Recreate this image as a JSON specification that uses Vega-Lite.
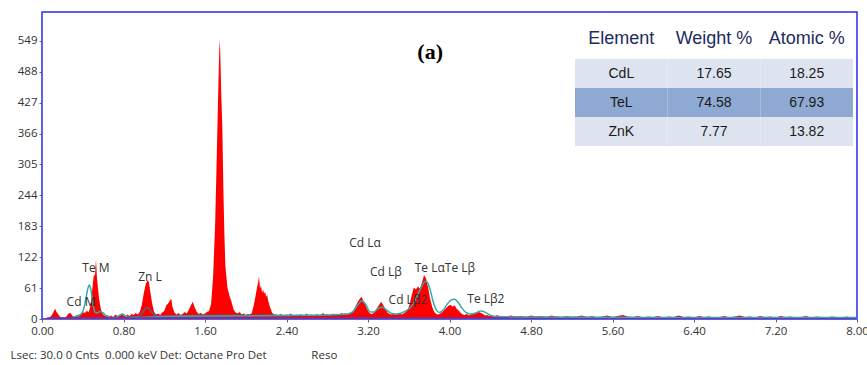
{
  "$schema": "https://vega.github.io/schema/vega-lite/v6.json",
  "width": 815,
  "height": 307,
  "autosize": {"type": "none"},
  "padding": {"left": 42, "top": 12, "right": 10, "bottom": 46},
  "background": "white",
  "config": {"view": {"stroke": "#2a2af0", "strokeWidth": 1.5}, "font": "Open Sans", "axis": {"labelOverlap": false, "labelBound": false}},
  "datasets": {
    "red": [
      {"keV":0.00,"counts":0},{"keV":0.02,"counts":0},{"keV":0.04,"counts":1},{"keV":0.06,"counts":2},{"keV":0.08,"counts":4},
      {"keV":0.10,"counts":9},{"keV":0.12,"counts":17},{"keV":0.13,"counts":20},{"keV":0.14,"counts":15},{"keV":0.16,"counts":9},
      {"keV":0.18,"counts":4},{"keV":0.20,"counts":3},{"keV":0.22,"counts":2},{"keV":0.24,"counts":5},{"keV":0.26,"counts":11},
      {"keV":0.28,"counts":12},{"keV":0.30,"counts":6},{"keV":0.32,"counts":4},{"keV":0.34,"counts":7},{"keV":0.36,"counts":5},
      {"keV":0.38,"counts":9},{"keV":0.40,"counts":14},{"keV":0.42,"counts":12},{"keV":0.44,"counts":16},{"keV":0.46,"counts":14},
      {"keV":0.48,"counts":30},{"keV":0.50,"counts":72},{"keV":0.51,"counts":88},{"keV":0.52,"counts":85},{"keV":0.53,"counts":118},
      {"keV":0.54,"counts":80},{"keV":0.55,"counts":60},{"keV":0.56,"counts":40},{"keV":0.58,"counts":18},{"keV":0.60,"counts":9},
      {"keV":0.62,"counts":6},{"keV":0.64,"counts":8},{"keV":0.66,"counts":5},{"keV":0.68,"counts":7},{"keV":0.70,"counts":4},
      {"keV":0.72,"counts":9},{"keV":0.74,"counts":6},{"keV":0.76,"counts":8},{"keV":0.78,"counts":11},{"keV":0.80,"counts":7},
      {"keV":0.82,"counts":5},{"keV":0.84,"counts":9},{"keV":0.86,"counts":6},{"keV":0.88,"counts":10},{"keV":0.90,"counts":8},
      {"keV":0.92,"counts":12},{"keV":0.94,"counts":9},{"keV":0.96,"counts":14},{"keV":0.98,"counts":28},{"keV":1.00,"counts":52},
      {"keV":1.02,"counts":70},{"keV":1.04,"counts":77},{"keV":1.05,"counts":72},{"keV":1.06,"counts":58},{"keV":1.08,"counts":32},
      {"keV":1.10,"counts":14},{"keV":1.12,"counts":9},{"keV":1.14,"counts":11},{"keV":1.16,"counts":8},{"keV":1.18,"counts":13},
      {"keV":1.20,"counts":16},{"keV":1.22,"counts":27},{"keV":1.24,"counts":31},{"keV":1.26,"counts":38},{"keV":1.27,"counts":39},
      {"keV":1.28,"counts":24},{"keV":1.30,"counts":13},{"keV":1.32,"counts":9},{"keV":1.34,"counts":12},{"keV":1.36,"counts":8},
      {"keV":1.38,"counts":10},{"keV":1.40,"counts":14},{"keV":1.42,"counts":11},{"keV":1.44,"counts":18},{"keV":1.46,"counts":26},
      {"keV":1.48,"counts":34},{"keV":1.50,"counts":22},{"keV":1.52,"counts":14},{"keV":1.54,"counts":10},{"keV":1.56,"counts":12},
      {"keV":1.58,"counts":9},{"keV":1.60,"counts":11},{"keV":1.62,"counts":14},{"keV":1.64,"counts":16},{"keV":1.66,"counts":30},
      {"keV":1.68,"counts":85},{"keV":1.70,"counts":190},{"keV":1.72,"counts":360},{"keV":1.73,"counts":450},{"keV":1.74,"counts":530},
      {"keV":1.745,"counts":551},{"keV":1.75,"counts":525},{"keV":1.76,"counts":440},{"keV":1.77,"counts":380},{"keV":1.78,"counts":260},
      {"keV":1.79,"counts":170},{"keV":1.80,"counts":105},{"keV":1.82,"counts":62},{"keV":1.84,"counts":46},{"keV":1.86,"counts":34},
      {"keV":1.88,"counts":19},{"keV":1.90,"counts":13},{"keV":1.92,"counts":11},{"keV":1.94,"counts":14},{"keV":1.96,"counts":9},
      {"keV":1.98,"counts":11},{"keV":2.00,"counts":8},{"keV":2.02,"counts":10},{"keV":2.04,"counts":9},{"keV":2.06,"counts":12},
      {"keV":2.08,"counts":28},{"keV":2.10,"counts":50},{"keV":2.11,"counts":62},{"keV":2.12,"counts":70},{"keV":2.13,"counts":84},
      {"keV":2.14,"counts":60},{"keV":2.15,"counts":66},{"keV":2.16,"counts":52},{"keV":2.17,"counts":58},{"keV":2.18,"counts":50},
      {"keV":2.19,"counts":54},{"keV":2.20,"counts":44},{"keV":2.21,"counts":48},{"keV":2.22,"counts":36},{"keV":2.24,"counts":22},
      {"keV":2.26,"counts":12},{"keV":2.28,"counts":9},{"keV":2.30,"counts":9},{"keV":2.32,"counts":7},{"keV":2.34,"counts":10},
      {"keV":2.36,"counts":8},{"keV":2.38,"counts":6},{"keV":2.40,"counts":9},{"keV":2.42,"counts":7},{"keV":2.44,"counts":11},
      {"keV":2.46,"counts":8},{"keV":2.48,"counts":6},{"keV":2.50,"counts":9},{"keV":2.52,"counts":7},{"keV":2.54,"counts":10},
      {"keV":2.56,"counts":6},{"keV":2.58,"counts":8},{"keV":2.60,"counts":11},{"keV":2.62,"counts":7},{"keV":2.64,"counts":9},
      {"keV":2.66,"counts":6},{"keV":2.68,"counts":8},{"keV":2.70,"counts":10},{"keV":2.72,"counts":7},{"keV":2.74,"counts":9},
      {"keV":2.76,"counts":12},{"keV":2.78,"counts":8},{"keV":2.80,"counts":10},{"keV":2.82,"counts":7},{"keV":2.84,"counts":9},
      {"keV":2.86,"counts":11},{"keV":2.88,"counts":8},{"keV":2.90,"counts":10},{"keV":2.92,"counts":9},{"keV":2.94,"counts":12},
      {"keV":2.96,"counts":10},{"keV":2.98,"counts":11},{"keV":3.00,"counts":9},{"keV":3.02,"counts":12},{"keV":3.04,"counts":14},
      {"keV":3.06,"counts":18},{"keV":3.08,"counts":26},{"keV":3.10,"counts":34},{"keV":3.12,"counts":40},{"keV":3.135,"counts":44},
      {"keV":3.15,"counts":38},{"keV":3.17,"counts":30},{"keV":3.19,"counts":20},{"keV":3.21,"counts":13},{"keV":3.23,"counts":10},
      {"keV":3.25,"counts":11},{"keV":3.27,"counts":15},{"keV":3.29,"counts":22},{"keV":3.31,"counts":28},{"keV":3.33,"counts":34},
      {"keV":3.35,"counts":27},{"keV":3.37,"counts":20},{"keV":3.39,"counts":13},{"keV":3.41,"counts":10},{"keV":3.43,"counts":9},
      {"keV":3.45,"counts":11},{"keV":3.47,"counts":8},{"keV":3.49,"counts":10},{"keV":3.51,"counts":12},{"keV":3.53,"counts":9},
      {"keV":3.55,"counts":11},{"keV":3.57,"counts":14},{"keV":3.59,"counts":18},{"keV":3.61,"counts":30},{"keV":3.63,"counts":48},
      {"keV":3.65,"counts":62},{"keV":3.67,"counts":58},{"keV":3.69,"counts":64},{"keV":3.71,"counts":60},{"keV":3.73,"counts":72},
      {"keV":3.75,"counts":87},{"keV":3.77,"counts":80},{"keV":3.79,"counts":62},{"keV":3.81,"counts":40},{"keV":3.83,"counts":24},
      {"keV":3.85,"counts":14},{"keV":3.87,"counts":10},{"keV":3.89,"counts":9},{"keV":3.91,"counts":11},{"keV":3.93,"counts":14},
      {"keV":3.95,"counts":18},{"keV":3.97,"counts":22},{"keV":3.99,"counts":26},{"keV":4.01,"counts":28},{"keV":4.03,"counts":24},
      {"keV":4.05,"counts":27},{"keV":4.07,"counts":20},{"keV":4.09,"counts":17},{"keV":4.11,"counts":12},{"keV":4.13,"counts":9},
      {"keV":4.15,"counts":8},{"keV":4.17,"counts":10},{"keV":4.19,"counts":7},{"keV":4.21,"counts":9},{"keV":4.23,"counts":11},
      {"keV":4.25,"counts":13},{"keV":4.27,"counts":12},{"keV":4.29,"counts":14},{"keV":4.31,"counts":12},{"keV":4.33,"counts":10},
      {"keV":4.35,"counts":7},{"keV":4.37,"counts":8},{"keV":4.39,"counts":6},{"keV":4.41,"counts":7},{"keV":4.43,"counts":5},
      {"keV":4.45,"counts":6},{"keV":4.47,"counts":8},{"keV":4.49,"counts":5},{"keV":4.51,"counts":6},{"keV":4.55,"counts":4},
      {"keV":4.60,"counts":7},{"keV":4.65,"counts":5},{"keV":4.70,"counts":6},{"keV":4.75,"counts":4},{"keV":4.80,"counts":7},
      {"keV":4.85,"counts":5},{"keV":4.90,"counts":6},{"keV":4.95,"counts":4},{"keV":5.00,"counts":7},{"keV":5.05,"counts":5},
      {"keV":5.10,"counts":3},{"keV":5.15,"counts":6},{"keV":5.20,"counts":4},{"keV":5.25,"counts":5},{"keV":5.30,"counts":7},
      {"keV":5.35,"counts":4},{"keV":5.40,"counts":6},{"keV":5.45,"counts":3},{"keV":5.50,"counts":5},{"keV":5.55,"counts":7},
      {"keV":5.60,"counts":4},{"keV":5.65,"counts":6},{"keV":5.70,"counts":8},{"keV":5.75,"counts":5},{"keV":5.80,"counts":4},
      {"keV":5.85,"counts":6},{"keV":5.90,"counts":3},{"keV":5.95,"counts":5},{"keV":6.00,"counts":4},{"keV":6.05,"counts":6},
      {"keV":6.10,"counts":3},{"keV":6.15,"counts":5},{"keV":6.20,"counts":4},{"keV":6.25,"counts":7},{"keV":6.30,"counts":4},
      {"keV":6.35,"counts":5},{"keV":6.40,"counts":3},{"keV":6.45,"counts":6},{"keV":6.50,"counts":4},{"keV":6.55,"counts":5},
      {"keV":6.60,"counts":3},{"keV":6.65,"counts":4},{"keV":6.70,"counts":6},{"keV":6.75,"counts":3},{"keV":6.80,"counts":5},
      {"keV":6.85,"counts":7},{"keV":6.90,"counts":4},{"keV":6.95,"counts":5},{"keV":7.00,"counts":3},{"keV":7.05,"counts":6},
      {"keV":7.10,"counts":4},{"keV":7.15,"counts":5},{"keV":7.20,"counts":3},{"keV":7.25,"counts":6},{"keV":7.30,"counts":4},
      {"keV":7.35,"counts":5},{"keV":7.40,"counts":3},{"keV":7.45,"counts":4},{"keV":7.50,"counts":6},{"keV":7.55,"counts":3},
      {"keV":7.60,"counts":5},{"keV":7.65,"counts":4},{"keV":7.70,"counts":3},{"keV":7.75,"counts":5},{"keV":7.80,"counts":4},
      {"keV":7.85,"counts":3},{"keV":7.90,"counts":5},{"keV":7.95,"counts":3},{"keV":8.00,"counts":4}
    ],
    "fit": [
      {"keV":0.30,"counts":3},{"keV":0.34,"counts":6},{"keV":0.38,"counts":9},{"keV":0.41,"counts":20},{"keV":0.43,"counts":40},
      {"keV":0.45,"counts":60},{"keV":0.465,"counts":67},{"keV":0.48,"counts":58},{"keV":0.50,"counts":30},{"keV":0.52,"counts":14},
      {"keV":0.54,"counts":12},{"keV":0.57,"counts":15},{"keV":0.60,"counts":12},{"keV":0.63,"counts":6},{"keV":0.67,"counts":3},
      {"keV":0.72,"counts":3},{"keV":0.76,"counts":7},{"keV":0.79,"counts":10},{"keV":0.82,"counts":6},{"keV":0.86,"counts":3},
      {"keV":0.90,"counts":3},{"keV":1.20,"counts":5},{"keV":1.80,"counts":6},{"keV":2.40,"counts":7},{"keV":2.80,"counts":8},
      {"keV":3.00,"counts":10},{"keV":3.05,"counts":14},{"keV":3.10,"counts":28},{"keV":3.14,"counts":36},{"keV":3.18,"counts":28},
      {"keV":3.22,"counts":14},{"keV":3.26,"counts":14},{"keV":3.30,"counts":21},{"keV":3.34,"counts":23},{"keV":3.38,"counts":18},
      {"keV":3.43,"counts":11},{"keV":3.48,"counts":10},{"keV":3.53,"counts":12},{"keV":3.58,"counts":17},{"keV":3.63,"counts":26},
      {"keV":3.68,"counts":44},{"keV":3.72,"counts":62},{"keV":3.76,"counts":74},{"keV":3.78,"counts":73},{"keV":3.81,"counts":58},
      {"keV":3.84,"counts":34},{"keV":3.87,"counts":18},{"keV":3.90,"counts":13},{"keV":3.94,"counts":18},{"keV":3.98,"counts":30},
      {"keV":4.02,"counts":38},{"keV":4.05,"counts":39},{"keV":4.08,"counts":34},{"keV":4.12,"counts":22},{"keV":4.16,"counts":13},
      {"keV":4.20,"counts":10},{"keV":4.25,"counts":11},{"keV":4.29,"counts":15},{"keV":4.32,"counts":16},{"keV":4.36,"counts":12},
      {"keV":4.41,"counts":7},{"keV":4.46,"counts":5},{"keV":4.60,"counts":4},{"keV":5.00,"counts":4},{"keV":6.00,"counts":3},
      {"keV":7.00,"counts":3},{"keV":8.00,"counts":3}
    ],
    "zn": [
      {"keV":0.85,"counts":3},{"keV":0.95,"counts":5},{"keV":0.99,"counts":14},{"keV":1.02,"counts":21},{"keV":1.04,"counts":22},
      {"keV":1.07,"counts":15},{"keV":1.10,"counts":8},{"keV":1.15,"counts":5},{"keV":1.30,"counts":6},{"keV":1.60,"counts":7},
      {"keV":2.00,"counts":7},{"keV":2.45,"counts":7}
    ],
    "base": [{"keV":0.05,"counts":2},{"keV":8.0,"counts":1.5}],
    "peaks": [
      {"label":"Te M","keV":0.53,"counts":101},
      {"label":"Cd M","keV":0.383,"counts":34},
      {"label":"Zn L","keV":1.06,"counts":83},
      {"label":"Cd Lα","keV":3.17,"counts":150},
      {"label":"Cd Lβ","keV":3.376,"counts":93},
      {"label":"Cd Lβ2","keV":3.592,"counts":37.5},
      {"label":"Te LαTe Lβ","keV":3.955,"counts":101},
      {"label":"Te Lβ2","keV":4.357,"counts":39.5}
    ],
    "table": [
      {"Element":"CdL","Weight %":"17.65","Atomic %":"18.25"},
      {"Element":"TeL","Weight %":"74.58","Atomic %":"67.93"},
      {"Element":"ZnK","Weight %":"7.77","Atomic %":"13.82"}
    ]
  },
  "layer": [
    {
      "layer": [
        {
          "data": {"name": "red"},
          "mark": {"type": "area", "color": "#ff0000", "interpolate": "linear"},
          "encoding": {
            "x": {"field": "keV", "type": "quantitative",
                  "scale": {"domain": [0, 8], "nice": false, "zero": false},
                  "axis": {"values": [0, 0.8, 1.6, 2.4, 3.2, 4.0, 4.8, 5.6, 6.4, 7.2, 8.0], "format": ".2f",
                           "labelFontSize": 11.5, "labelColor": "#333333", "labelFlush": false, "labelOverlap": false, "labelPadding": 3,
                           "tickSize": 3, "tickColor": "#666666", "domain": false, "grid": false,
                           "title": "Lsec: 30.0 0 Cnts\u00a0\u00a00.000 keV Det: Octane Pro Det\u00a0\u00a0\u00a0\u00a0\u00a0\u00a0\u00a0\u00a0\u00a0\u00a0\u00a0\u00a0\u00a0\u00a0\u00a0Reso",
                           "titleAnchor": "start", "titleAlign": "left", "titleX": -32, "titleY": 36,
                           "titleBaseline": "middle", "titleFontWeight": "normal", "titleFontSize": 11.5,
                           "titleColor": "#333333", "titleFont": "Open Sans"}},
            "y": {"field": "counts", "type": "quantitative",
                  "scale": {"domain": [0, 606], "nice": false},
                  "axis": {"values": [0, 61, 122, 183, 244, 305, 366, 427, 488, 549], "tickCount": 10,
                           "labelFontSize": 11.5, "labelColor": "#333333", "labelPadding": 2, "labelOverlap": false,
                           "tickSize": 3, "tickColor": "#666666", "domain": false, "grid": false, "title": null}}
          }
        },
        {
          "data": {"name": "zn"},
          "mark": {"type": "line", "color": "#5a6470", "strokeWidth": 1.5, "interpolate": "monotone"},
          "encoding": {"x": {"field": "keV", "type": "quantitative"}, "y": {"field": "counts", "type": "quantitative"}}
        },
        {
          "data": {"name": "fit"},
          "mark": {"type": "line", "color": "#36a9ad", "strokeWidth": 1.5, "interpolate": "monotone"},
          "encoding": {"x": {"field": "keV", "type": "quantitative"}, "y": {"field": "counts", "type": "quantitative"}}
        },
        {
          "data": {"name": "base"},
          "mark": {"type": "line", "color": "#5a3fb0", "strokeWidth": 1.5},
          "encoding": {"x": {"field": "keV", "type": "quantitative"}, "y": {"field": "counts", "type": "quantitative"}}
        },
        {
          "data": {"name": "peaks"},
          "mark": {"type": "text", "fontSize": 12, "color": "#333333", "font": "Open Sans", "align": "center", "baseline": "middle"},
          "encoding": {"x": {"field": "keV", "type": "quantitative"}, "y": {"field": "counts", "type": "quantitative"}, "text": {"field": "label"}}
        },
        {
          "data": {"values": [{"panel": "(a)"}]},
          "mark": {"type": "text", "fontSize": 22, "fontWeight": "bold", "font": "Liberation Serif", "color": "#000000", "align": "center", "baseline": "middle"},
          "encoding": {"x": {"datum": 3.81}, "y": {"datum": 527}, "text": {"field": "panel"}}
        }
      ]
    },
    {
      "data": {"name": "table"},
      "transform": [{"fold": ["Element", "Weight %", "Atomic %"], "as": ["col", "val"]}],
      "layer": [
        {
          "mark": {"type": "rect", "strokeWidth": 0},
          "encoding": {
            "x": {"field": "col", "type": "nominal",
                  "scale": {"type": "band", "domain": ["Element", "Weight %", "Atomic %"], "range": [533, 811], "paddingInner": 0, "paddingOuter": 0},
                  "axis": {"orient": "top", "offset": -26, "domain": false, "ticks": false, "grid": false, "title": null,
                           "labelAngle": 0, "labelFontSize": 18, "labelFont": "Liberation Sans", "labelColor": "#1e2b5e",
                           "labelPadding": 0, "labelBaseline": "middle"}},
            "y": {"field": "Element", "type": "nominal",
                  "scale": {"type": "band", "domain": ["CdL", "TeL", "ZnK"], "range": [47, 134], "paddingInner": 0, "paddingOuter": 0},
                  "axis": null},
            "color": {"condition": {"test": "datum.Element === 'TeL'", "value": "#8eaad3"}, "value": "#dde4ef"}
          }
        },
        {
          "mark": {"type": "text", "fontSize": 14, "font": "Liberation Sans", "color": "#1a1a1a", "align": "center", "baseline": "middle"},
          "encoding": {
            "x": {"field": "col", "type": "nominal"},
            "y": {"field": "Element", "type": "nominal"},
            "text": {"field": "val"}
          }
        }
      ]
    }
  ],
  "resolve": {"scale": {"x": "independent", "y": "independent"}, "axis": {"x": "independent", "y": "independent"}}
}
